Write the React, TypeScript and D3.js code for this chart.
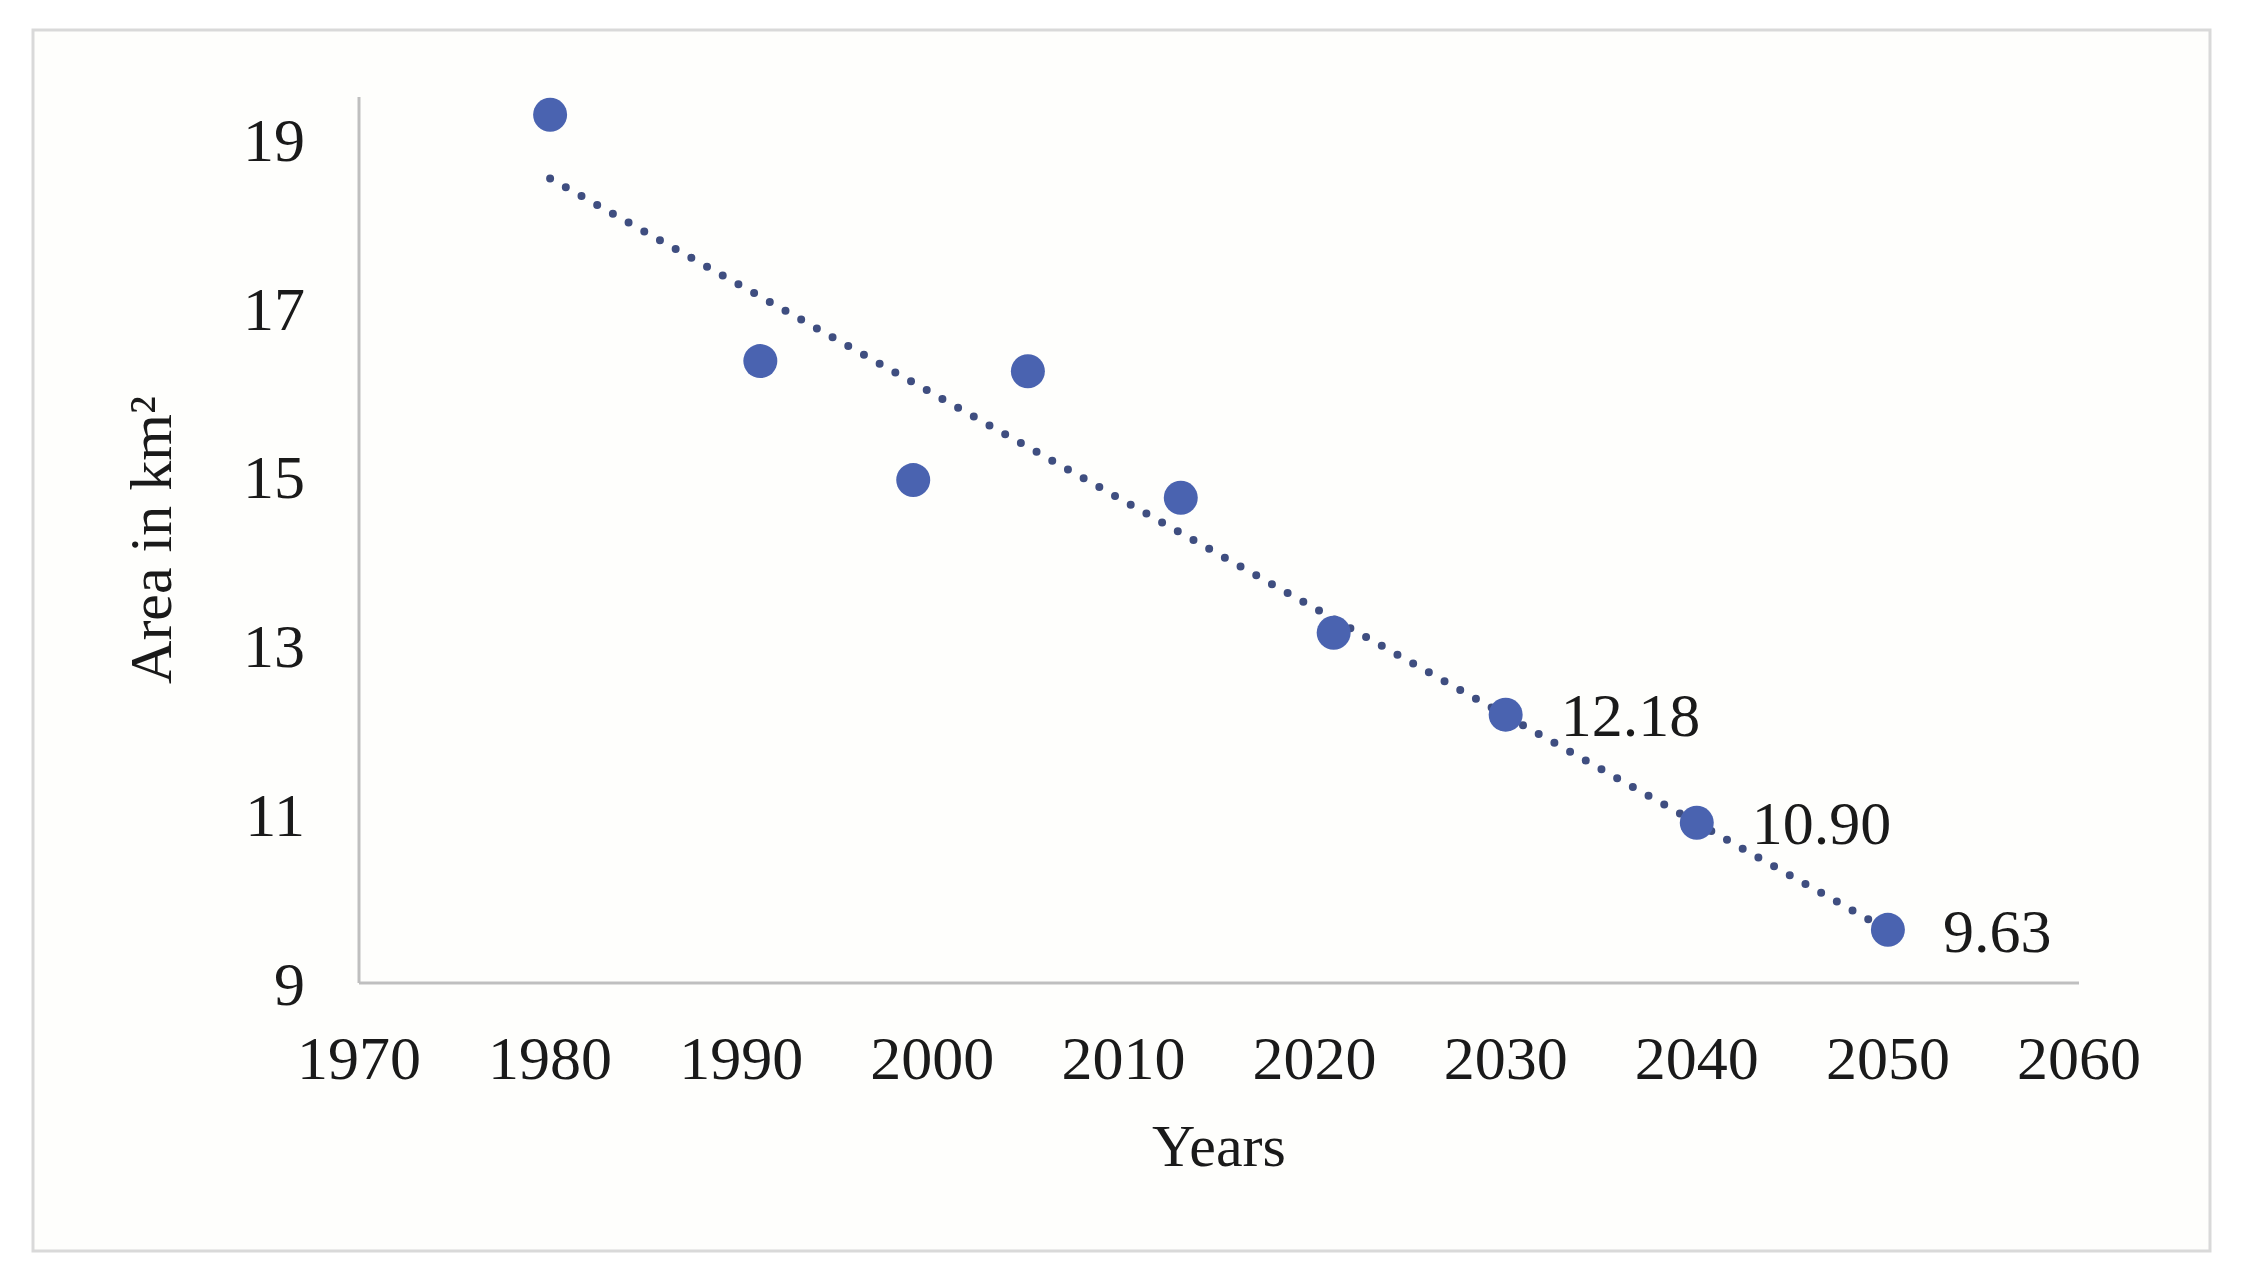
import { useEffect, useRef } from 'react';
import * as d3 from 'd3';

// observed + projected area values
const years = [1980, 1991, 1999, 2005, 2013, 2021, 2030, 2040, 2050];
const areas = [19.29, 16.37, 14.96, 16.25, 14.75, 13.15, 12.18, 10.9, 9.63];
const labelledYears = [2030, 2040, 2050];

const xTicks = [1970, 1980, 1990, 2000, 2010, 2020, 2030, 2040, 2050, 2060];
const yTicks = [9, 11, 13, 15, 17, 19];

const W = 2251;
const H = 1282;

const App = () => {
  const ref = useRef<SVGSVGElement | null>(null);

  useEffect(() => {
    const svg = d3.select(ref.current);
    svg.selectAll('*').remove();

    const margin = { top: 97, right: W - 2079, bottom: H - 983, left: 359 };
    const font = '"Liberation Serif", "Times New Roman", serif';

    // outer frame
    svg.append('rect')
      .attr('x', 33).attr('y', 30)
      .attr('width', 2177).attr('height', 1221)
      .attr('fill', '#fefefc')
      .attr('stroke', '#d9d9d9')
      .attr('stroke-width', 3);

    const x = d3.scaleLinear().domain([1970, 2060]).range([margin.left, W - margin.right]);
    const y = d3.scaleLinear().domain([9, 19.5]).range([H - margin.bottom, margin.top]);

    // axes lines
    svg.append('line')
      .attr('x1', x(1970)).attr('x2', x(1970))
      .attr('y1', y(19.5)).attr('y2', y(9))
      .attr('stroke', '#bfbfbf').attr('stroke-width', 3);
    svg.append('line')
      .attr('x1', x(1970)).attr('x2', x(2060))
      .attr('y1', y(9)).attr('y2', y(9))
      .attr('stroke', '#bfbfbf').attr('stroke-width', 3);

    // tick labels
    svg.append('g').selectAll('text')
      .data(xTicks)
      .enter().append('text')
      .attr('x', d => x(d))
      .attr('y', 1079)
      .attr('text-anchor', 'middle')
      .attr('font-family', font)
      .attr('font-size', 62)
      .attr('fill', '#1a1a1a')
      .text(d => d);

    svg.append('g').selectAll('text')
      .data(yTicks)
      .enter().append('text')
      .attr('x', 305)
      .attr('y', d => y(d))
      .attr('dy', '0.35em')
      .attr('text-anchor', 'end')
      .attr('font-family', font)
      .attr('font-size', 62)
      .attr('fill', '#1a1a1a')
      .text(d => d);

    // axis titles
    svg.append('text')
      .attr('x', (x(1970) + x(2060)) / 2)
      .attr('y', 1166)
      .attr('text-anchor', 'middle')
      .attr('font-family', font)
      .attr('font-size', 60)
      .attr('fill', '#1a1a1a')
      .text('Years');

    svg.append('text')
      .attr('transform', `translate(171, ${(y(9) + y(19.5)) / 2}) rotate(-90)`)
      .attr('text-anchor', 'middle')
      .attr('font-family', font)
      .attr('font-size', 60)
      .attr('fill', '#1a1a1a')
      .text('Area in km²');

    // linear trendline (least squares over all points)
    const mx = d3.mean(years)!;
    const my = d3.mean(areas)!;
    const sxy = d3.sum(years, (v, i) => (v - mx) * (areas[i] - my));
    const sxx = d3.sum(years, v => (v - mx) * (v - mx));
    const slope = sxy / sxx;
    const fit = (v: number) => my + slope * (v - mx);
    const ends = [years[0], years[years.length - 1]];

    svg.append('path')
      .datum(ends)
      .attr('d', d3.line<number>().x(d => x(d)).y(d => y(fit(d))))
      .attr('fill', 'none')
      .attr('stroke', '#3f4e80')
      .attr('stroke-width', 8)
      .attr('stroke-linecap', 'round')
      .attr('stroke-dasharray', '0 18');

    // points
    svg.append('g').selectAll('circle')
      .data(years)
      .enter().append('circle')
      .attr('cx', d => x(d))
      .attr('cy', (d, i) => y(areas[i]))
      .attr('r', 17)
      .attr('fill', '#4a63b0');

    // data labels
    svg.append('g').selectAll('text')
      .data(labelledYears)
      .enter().append('text')
      .attr('x', d => x(d) + 55)
      .attr('y', d => y(areas[years.indexOf(d)]))
      .attr('dy', '0.35em')
      .attr('font-family', font)
      .attr('font-size', 62)
      .attr('fill', '#1a1a1a')
      .text(d => areas[years.indexOf(d)].toFixed(2));
  }, []);

  return (
    <svg ref={ref} width={W} height={H}
      style={{ position: 'absolute', left: 0, top: 0, background: '#ffffff' }} />
  );
};

export default App;
